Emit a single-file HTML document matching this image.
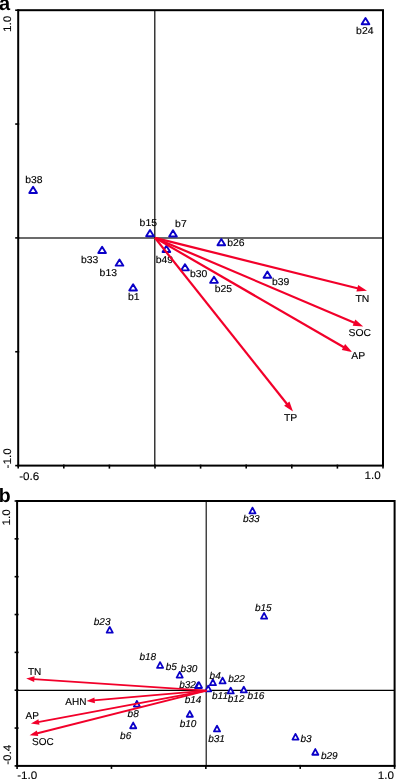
<!DOCTYPE html>
<html><head><meta charset="utf-8"><title>Ordination biplots</title>
<style>
html,body{margin:0;padding:0;background:#fff;}
body{width:396px;height:779px;overflow:hidden;}
svg{display:block;font-family:"Liberation Sans",Arial,Helvetica,sans-serif;text-rendering:geometricPrecision;}
</style></head><body>
<svg width="396" height="779" viewBox="0 0 396 779">
<rect width="396" height="779" fill="#fff"/>

<g id="plotA">
<text x="-1.1" y="10.2" font-size="20" font-weight="bold">a</text>
<line x1="18.2" y1="238.0" x2="383.0" y2="238.0" stroke="#3a3a3a" stroke-width="1.3"/>
<line x1="154.78" y1="10.2" x2="154.78" y2="465.6" stroke="#222" stroke-width="1.35"/>
<g fill="#fff" stroke="#0a00c8" stroke-width="1.9" stroke-linejoin="round">
<polygon points="29.25,192.95 36.95,192.95 33.10,186.75"/>
<polygon points="361.65,24.25 369.35,24.25 365.50,18.05"/>
<polygon points="146.15,236.25 153.85,236.25 150.00,230.05"/>
<polygon points="169.15,236.55 176.85,236.55 173.00,230.35"/>
<polygon points="162.55,252.05 170.25,252.05 166.40,245.85"/>
<polygon points="98.25,253.05 105.95,253.05 102.10,246.85"/>
<polygon points="115.65,265.65 123.35,265.65 119.50,259.45"/>
<polygon points="129.25,290.45 136.95,290.45 133.10,284.25"/>
<polygon points="217.45,245.25 225.15,245.25 221.30,239.05"/>
<polygon points="181.15,270.35 188.85,270.35 185.00,264.15"/>
<polygon points="210.15,282.85 217.85,282.85 214.00,276.65"/>
<polygon points="263.55,277.75 271.25,277.75 267.40,271.55"/>
</g>
<g fill="#000" stroke="#000" stroke-width="0.14">
<text transform="translate(25.20,183.20) scale(1.04,1)" font-size="10.0">b38</text>
<text transform="translate(356.10,34.10) scale(1.04,1)" font-size="10.0">b24</text>
<text transform="translate(139.60,225.90) scale(1.04,1)" font-size="10.0">b15</text>
<text transform="translate(175.10,226.70) scale(1.04,1)" font-size="10.0">b7</text>
<text transform="translate(155.80,262.70) scale(1.04,1)" font-size="10.0">b49</text>
<text transform="translate(81.00,263.30) scale(1.04,1)" font-size="10.0">b33</text>
<text transform="translate(99.60,276.10) scale(1.04,1)" font-size="10.0">b13</text>
<text transform="translate(127.90,300.10) scale(1.04,1)" font-size="10.0">b1</text>
<text transform="translate(227.30,246.20) scale(1.04,1)" font-size="10.0">b26</text>
<text transform="translate(189.90,276.50) scale(1.04,1)" font-size="10.0">b30</text>
<text transform="translate(214.80,292.30) scale(1.04,1)" font-size="10.0">b25</text>
<text transform="translate(272.00,285.20) scale(1.04,1)" font-size="10.0">b39</text>
<text transform="translate(355.50,301.50) scale(1.04,1)" font-size="10.0">TN</text>
<text transform="translate(348.50,336.20) scale(1.04,1)" font-size="10.0">SOC</text>
<text transform="translate(351.20,358.90) scale(1.04,1)" font-size="10.0">AP</text>
<text transform="translate(283.90,421.40) scale(1.04,1)" font-size="10.0">TP</text>
</g>
<line x1="155.00" y1="237.90" x2="358.27" y2="288.52" stroke="#f2002a" stroke-width="2.2"/><polygon points="367.00,290.70 356.47,291.58 358.12,284.98" fill="#f2002a"/>
<line x1="155.00" y1="237.90" x2="354.92" y2="323.07" stroke="#f2002a" stroke-width="2.2"/><polygon points="363.20,326.60 352.67,325.81 355.33,319.55" fill="#f2002a"/>
<line x1="155.00" y1="237.90" x2="344.31" y2="347.49" stroke="#f2002a" stroke-width="2.2"/><polygon points="352.10,352.00 341.74,349.93 345.15,344.05" fill="#f2002a"/>
<line x1="155.00" y1="237.90" x2="287.40" y2="404.45" stroke="#f2002a" stroke-width="2.2"/><polygon points="293.00,411.50 284.12,405.79 289.44,401.56" fill="#f2002a"/>
<g stroke="#000" stroke-width="2.0" fill="none">
<rect x="18.2" y="10.2" width="364.8" height="455.40000000000003"/>
</g>
<g stroke="#000" stroke-width="1.6">
<line x1="15.2" y1="10.20" x2="19.2" y2="10.20"/>
<line x1="15.2" y1="124.05" x2="19.2" y2="124.05"/>
<line x1="15.2" y1="237.90" x2="19.2" y2="237.90"/>
<line x1="15.2" y1="351.75" x2="19.2" y2="351.75"/>
<line x1="15.2" y1="465.60" x2="19.2" y2="465.60"/>
<line x1="18.20" y1="464.6" x2="18.20" y2="468.6"/>
<line x1="63.80" y1="464.6" x2="63.80" y2="468.6"/>
<line x1="109.40" y1="464.6" x2="109.40" y2="468.6"/>
<line x1="155.00" y1="464.6" x2="155.00" y2="468.6"/>
<line x1="200.60" y1="464.6" x2="200.60" y2="468.6"/>
<line x1="246.20" y1="464.6" x2="246.20" y2="468.6"/>
<line x1="291.80" y1="464.6" x2="291.80" y2="468.6"/>
<line x1="337.40" y1="464.6" x2="337.40" y2="468.6"/>
<line x1="383.00" y1="464.6" x2="383.00" y2="468.6"/>
</g>
<g fill="#000" font-size="11" stroke="#000" stroke-width="0.1">
<text transform="translate(11,32.0) rotate(-90) scale(1.06,1)">1.0</text>
<text transform="translate(11,468.4) rotate(-90) scale(1.06,1)">-1.0</text>
<text transform="translate(19.2,479.6) scale(1.06,1)">-0.6</text>
<text transform="translate(364.6,479.2) scale(1.06,1)">1.0</text>
</g>
</g>
<g id="plotB">
<text x="-1.2" y="501.8" font-size="19.5" font-weight="bold">b</text>
<line x1="17.1" y1="690.4" x2="394.6" y2="690.4" stroke="#000" stroke-width="1.2"/>
<line x1="206.22" y1="501.0" x2="206.22" y2="765.9" stroke="#222" stroke-width="1.25"/>
<g fill="#fff" stroke="#0a00c8" stroke-width="1.8" stroke-linejoin="round">
<polygon points="249.45,513.35 255.55,513.35 252.50,507.65"/>
<polygon points="261.05,618.65 267.15,618.65 264.10,612.95"/>
<polygon points="106.65,632.65 112.75,632.65 109.70,626.95"/>
<polygon points="157.05,667.85 163.15,667.85 160.10,662.15"/>
<polygon points="176.65,677.55 182.75,677.55 179.70,671.85"/>
<polygon points="195.05,688.15 201.15,688.15 198.10,682.45"/>
<polygon points="195.95,687.85 202.05,687.85 199.00,682.15"/>
<polygon points="205.15,691.35 211.25,691.35 208.20,685.65"/>
<polygon points="209.85,685.15 215.95,685.15 212.90,679.45"/>
<polygon points="219.55,683.35 225.65,683.35 222.60,677.65"/>
<polygon points="227.65,693.45 233.75,693.45 230.70,687.75"/>
<polygon points="240.75,692.45 246.85,692.45 243.80,686.75"/>
<polygon points="186.75,716.75 192.85,716.75 189.80,711.05"/>
<polygon points="213.95,731.45 220.05,731.45 217.00,725.75"/>
<polygon points="292.45,739.55 298.55,739.55 295.50,733.85"/>
<polygon points="312.25,754.75 318.35,754.75 315.30,749.05"/>
<polygon points="133.85,706.55 139.95,706.55 136.90,700.85"/>
<polygon points="130.15,728.25 136.25,728.25 133.20,722.55"/>
</g>
<g fill="#000" stroke="#000" stroke-width="0.14">
<text transform="translate(242.90,521.60) scale(1.0,1)" font-size="10" font-style="italic">b33</text>
<text transform="translate(255.00,611.20) scale(1.0,1)" font-size="10" font-style="italic">b15</text>
<text transform="translate(93.80,624.80) scale(1.0,1)" font-size="10" font-style="italic">b23</text>
<text transform="translate(139.40,660.00) scale(1.0,1)" font-size="10" font-style="italic">b18</text>
<text transform="translate(165.70,670.30) scale(1.0,1)" font-size="10" font-style="italic">b5</text>
<text transform="translate(180.60,671.90) scale(1.0,1)" font-size="10" font-style="italic">b30</text>
<text transform="translate(179.20,687.70) scale(1.0,1)" font-size="10" font-style="italic">b32</text>
<text transform="translate(184.70,703.00) scale(1.0,1)" font-size="10" font-style="italic">b14</text>
<text transform="translate(209.60,679.20) scale(1.0,1)" font-size="10" font-style="italic">b4</text>
<text transform="translate(228.20,681.80) scale(1.0,1)" font-size="10" font-style="italic">b22</text>
<text transform="translate(212.00,699.40) scale(1.0,1)" font-size="10" font-style="italic">b11</text>
<text transform="translate(227.80,702.40) scale(1.0,1)" font-size="10" font-style="italic">b12</text>
<text transform="translate(247.60,699.30) scale(1.0,1)" font-size="10" font-style="italic">b16</text>
<text transform="translate(179.70,727.10) scale(1.0,1)" font-size="10" font-style="italic">b10</text>
<text transform="translate(208.20,742.30) scale(1.0,1)" font-size="10" font-style="italic">b31</text>
<text transform="translate(300.40,742.40) scale(1.0,1)" font-size="10" font-style="italic">b3</text>
<text transform="translate(321.00,759.20) scale(1.0,1)" font-size="10" font-style="italic">b29</text>
<text transform="translate(127.60,717.40) scale(1.0,1)" font-size="10" font-style="italic">b8</text>
<text transform="translate(120.10,738.70) scale(1.0,1)" font-size="10" font-style="italic">b6</text>
<text transform="translate(27.90,675.20) scale(1.0,1)" font-size="10">TN</text>
<text transform="translate(65.30,704.80) scale(1.0,1)" font-size="10">AHN</text>
<text transform="translate(25.60,718.80) scale(1.0,1)" font-size="10">AP</text>
<text transform="translate(32.00,744.70) scale(1.0,1)" font-size="10">SOC</text>
</g>
<line x1="206.50" y1="690.60" x2="33.38" y2="679.08" stroke="#f2002a" stroke-width="1.9"/><polygon points="26.20,678.60 34.57,676.25 34.19,682.04" fill="#f2002a"/>
<line x1="206.50" y1="690.60" x2="93.67" y2="700.38" stroke="#f2002a" stroke-width="1.9"/><polygon points="86.50,701.00 94.42,697.40 94.92,703.18" fill="#f2002a"/>
<line x1="206.50" y1="690.60" x2="37.98" y2="722.17" stroke="#f2002a" stroke-width="1.9"/><polygon points="30.90,723.50 38.43,719.14 39.49,724.84" fill="#f2002a"/>
<line x1="206.50" y1="690.60" x2="36.58" y2="733.54" stroke="#f2002a" stroke-width="1.9"/><polygon points="29.60,735.30 36.84,730.48 38.26,736.10" fill="#f2002a"/>
<g stroke="#000" stroke-width="2.0" fill="none">
<rect x="17.1" y="501.0" width="377.5" height="264.9"/>
</g>
<g stroke="#000" stroke-width="1.6">
<line x1="14.600000000000001" y1="501.00" x2="18.6" y2="501.00"/>
<line x1="14.600000000000001" y1="538.84" x2="18.6" y2="538.84"/>
<line x1="14.600000000000001" y1="576.69" x2="18.6" y2="576.69"/>
<line x1="14.600000000000001" y1="614.53" x2="18.6" y2="614.53"/>
<line x1="14.600000000000001" y1="652.37" x2="18.6" y2="652.37"/>
<line x1="14.600000000000001" y1="690.21" x2="18.6" y2="690.21"/>
<line x1="14.600000000000001" y1="728.06" x2="18.6" y2="728.06"/>
<line x1="14.600000000000001" y1="765.90" x2="18.6" y2="765.90"/>
<line x1="17.10" y1="764.9" x2="17.10" y2="768.9"/>
<line x1="111.47" y1="764.9" x2="111.47" y2="768.9"/>
<line x1="205.85" y1="764.9" x2="205.85" y2="768.9"/>
<line x1="300.23" y1="764.9" x2="300.23" y2="768.9"/>
<line x1="394.60" y1="764.9" x2="394.60" y2="768.9"/>
</g>
<g fill="#000" font-size="11" stroke="#000" stroke-width="0.1">
<text transform="translate(10.2,525.4) rotate(-90) scale(1.06,1)">1.0</text>
<text transform="translate(10.7,764.8) rotate(-90) scale(1.06,1)">-0.4</text>
<text transform="translate(17.2,778.8) scale(1.06,1)">-1.0</text>
<text transform="translate(377.8,778.8) scale(1.06,1)">1.0</text>
</g>
</g>
</svg>
</body></html>
